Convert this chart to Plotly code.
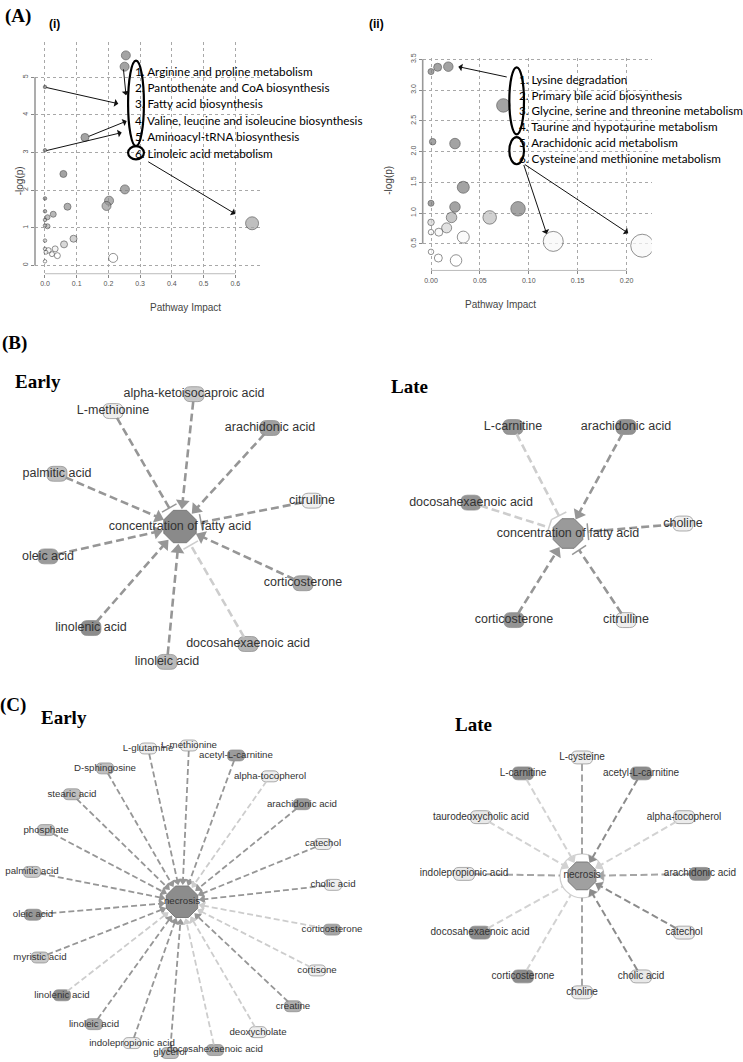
import math
import plotly.graph_objects as go

W, H = 743, 1062

# ---------------- Panel A(i) data ----------------
a1_impact = [0.255, 0.251, 0.000, 0.126, 0.000, 0.058, 0.252, 0.202, 0.194, 0.000, 0.071, 0.026, 0.000, 0.008,
             0.000, 0.008, 0.000, 0.653, 0.090, 0.060, 0.000, 0.000, 0.011, 0.032, 0.022, 0.003, 0.039, 0.215, 0.000]
a1_logp = [5.58, 5.28, 4.74, 3.40, 3.06, 2.43, 2.02, 1.72, 1.58, 1.78, 1.56, 1.36, 1.44, 1.28,
           1.21, 1.04, 1.06, 1.12, 0.71, 0.56, 0.66, 0.44, 0.40, 0.44, 0.30, 0.35, 0.26, 0.20, 0.11]
a1_bubble = [9, 9, 3.5, 8, 3.5, 7, 9, 9, 9, 3.5, 7, 6, 3.5, 5,
             3.5, 5, 3.5, 13, 7, 7, 3.5, 3.5, 5.5, 6, 5, 4, 6, 9, 3.5]
a1_shade = [125, 125, 110, 125, 118, 125, 132, 142, 150, 128, 142, 155, 150, 165,
            170, 180, 175, 165, 190, 200, 205, 225, 245, 240, 250, 250, 255, 255, 255]
a1_pathways = ["Arginine and proline metabolism", "Pantothenate and CoA biosynthesis",
               "Fatty acid biosynthesis", "Valine, leucine and isoleucine biosynthesis",
               "Aminoacyl-tRNA biosynthesis", "Linoleic acid metabolism"]
a1_xticks = [0.0, 0.1, 0.2, 0.3, 0.4, 0.5, 0.6]
a1_yticks = [0, 1, 2, 3, 4, 5]

# ---------------- Panel A(ii) data ----------------
a2_impact = [0.000, 0.0068, 0.0177, 0.074, 0.0017, 0.0245, 0.033, 0.000, 0.0245, 0.089, 0.021,
             0.060, 0.000, 0.016, 0.000, 0.008, 0.033, 0.125, 0.216, 0.000, 0.0075, 0.0256]
a2_logp = [3.30, 3.37, 3.38, 2.75, 2.16, 2.13, 1.42, 1.16, 1.10, 1.07, 0.93,
           0.93, 0.85, 0.76, 0.69, 0.69, 0.61, 0.54, 0.47, 0.37, 0.27, 0.23]
a2_bubble = [6, 8, 9.5, 13.5, 6.5, 10.5, 12, 6, 10.5, 14.5, 10.5,
             13.5, 6.5, 10, 5.5, 8, 12, 20, 23, 5.5, 8, 11.5]
a2_shade = [125, 125, 125, 125, 125, 125, 125, 125, 125, 125, 175,
            190, 215, 215, 250, 248, 250, 248, 248, 255, 255, 255]
a2_pathways = ["Lysine degradation", "Primary bile acid biosynthesis",
               "Glycine, serine and threonine metabolism", "Taurine and hypotaurine metabolism",
               "Arachidonic acid metabolism", "Cysteine and methionine metabolism"]
a2_xticks = [0.00, 0.05, 0.10, 0.15, 0.20]
a2_yticks = [0.5, 1.0, 1.5, 2.0, 2.5, 3.0, 3.5]

# ---------------- Panel B networks (offsets from the central node) ----------------
be_nodes = ["alpha-ketoisocaproic acid", "L-methionine", "arachidonic acid", "palmitic acid", "citrulline",
            "oleic acid", "corticosterone", "linolenic acid", "docosahexaenoic acid", "linoleic acid"]
be_dx = [14, -67, 90, -123, 132, -132, 123, -89, 68, -13]
be_dy = [-133, -116, -99, -53, -26, 30, 57, 102, 118, 136]
be_shade = [200, 238, 160, 190, 240, 155, 170, 140, 180, 185]
be_kind = ["arrow", "tbar", "arrow", "arrow", "tbar", "arrow", "arrow", "arrow", "tbar", "arrow"]
be_tone = [150, 150, 150, 150, 150, 150, 150, 150, 205, 150]

bl_nodes = ["L-carnitine", "arachidonic acid", "docosahexaenoic acid", "choline", "corticosterone", "citrulline"]
bl_dx = [-55, 58, -97, 115, -54, 58]
bl_dy = [-107, -107, -31, -10, 87, 87]
bl_shade = [150, 145, 148, 240, 148, 238]
bl_kind = ["tbar", "arrow", "tbar", "tbar", "arrow", "tbar"]
bl_tone = [205, 150, 205, 150, 150, 150]

# ---------------- Panel C networks ----------------
ce_nodes = ["L-glutamine", "L-methionine", "acetyl-L-carnitine", "D-sphingosine", "alpha-tocopherol",
            "stearic acid", "arachidonic acid", "phosphate", "catechol", "palmitic acid", "cholic acid",
            "oleic acid", "corticosterone", "myristic acid", "cortisone", "linolenic acid", "creatine",
            "linoleic acid", "deoxycholate", "indolepropionic acid", "glycerol", "docosahexaenoic acid"]
ce_dx = [-34, 7, 54, -77, 88, -110, 120, -136, 141, -150, 151, -149, 150, -142, 135, -120, 111, -88, 76, -50, -12, 33]
ce_dy = [-154, -157, -147, -134, -126, -108, -98, -72, -58, -30, -17, 13, 28, 56, 69, 94, 105, 123, 131, 142, 152, 149]
ce_shade = [238, 238, 155, 190, 238, 190, 155, 195, 238, 200, 238, 150, 165, 200, 238, 140, 175, 170, 238, 238, 190, 170]
ce_kind = ["arrow"] * 22
ce_tone = [150, 150, 150, 150, 205, 150, 150, 150, 150, 150, 150, 150, 205, 150, 205, 205, 150, 150, 205, 150, 150, 205]

cl_nodes = ["L-cysteine", "L-carnitine", "acetyl-L-carnitine", "taurodeoxycholic acid", "alpha-tocopherol",
            "indolepropionic acid", "arachidonic acid", "docosahexaenoic acid", "catechol", "corticosterone",
            "cholic acid", "choline"]
cl_dx = [0, -59, 59, -101, 102, -118, 118, -102, 102, -59, 59, 0]
cl_dy = [-119, -103, -103, -59, -59, -2, -2, 57, 57, 101, 101, 117]
cl_shade = [238, 140, 140, 232, 235, 232, 140, 140, 235, 140, 232, 235]
cl_kind = ["none", "arrow", "arrow", "arrow", "arrow", "none", "arrow", "none", "arrow", "none", "arrow", "none"]
cl_tone = [165, 210, 140, 210, 210, 165, 165, 210, 140, 210, 140, 165]

# =====================================================================
fig = go.Figure()
layout = {}
shapes = []
annotations = []


def gray(v):
    return f"rgb({v},{v},{v})"


def px_x(px):
    return px / W


def px_y(py):
    return 1 - py / H


# ---- Panel A scatter plots ----
def a_axes(i, box, xr, yr, xticks, yticks, xfmt, yfmt):
    x0, y0, x1, y1 = box
    sfx = "" if i == 1 else str(i)
    common = dict(showgrid=True, gridcolor="#a8a8a8", griddash="dot", gridwidth=1, zeroline=False,
                  showline=False, ticks="outside", ticklen=3, tickcolor="#888", tickwidth=1,
                  tickfont=dict(family="Liberation Sans", size=7, color="#555"), fixedrange=True)
    layout["xaxis" + sfx] = dict(domain=[px_x(x0), px_x(x1)], range=xr, anchor="y" + sfx,
                                 tickvals=xticks, ticktext=[xfmt.format(v) for v in xticks], **common)
    layout["yaxis" + sfx] = dict(domain=[px_y(y1), px_y(y0)], range=yr, anchor="x" + sfx,
                                 tickvals=yticks, ticktext=[yfmt.format(v) for v in yticks],
                                 tickangle=-90, **common)
    xa, ya = "x" + sfx, "y" + sfx
    shapes.append(dict(type="line", xref=xa + " domain", yref=ya, x0=0, x1=0, y0=yticks[0], y1=yticks[-1],
                       line=dict(color="#999", width=1.6)))
    shapes.append(dict(type="line", xref=xa, yref=ya + " domain", x0=xticks[0], x1=xticks[-1], y0=0, y1=0,
                       line=dict(color="#bbb", width=1)))
    return xa, ya


xa1, ya1 = a_axes(1, (35, 37, 260, 270), [-0.0315, 0.678], [-0.22, 5.94], a1_xticks, a1_yticks, "{:.1f}", "{:d}")
xa2, ya2 = a_axes(2, (422.7, 53.3, 651.7, 266.7), [-0.0085, 0.2257], [0.068, 3.52], a2_xticks, a2_yticks,
                  "{:.2f}", "{:.1f}")

fig.add_trace(go.Scatter(x=a1_impact, y=a1_logp, mode="markers", xaxis=xa1, yaxis=ya1,
                         marker=dict(size=a1_bubble, color=[gray(v) for v in a1_shade],
                                     line=dict(color="#222", width=0.7)), showlegend=False, hoverinfo="skip"))
fig.add_trace(go.Scatter(x=a2_impact, y=a2_logp, mode="markers", xaxis=xa2, yaxis=ya2,
                         marker=dict(size=a2_bubble, color=[gray(v) for v in a2_shade],
                                     line=dict(color="#222", width=0.7)), showlegend=False, hoverinfo="skip"))

afont = dict(family="Lato", size=11.7, color="black")
for i, name in enumerate(a1_pathways):
    annotations.append(dict(x=0.2776, y=5.177 - i * 0.4376, xref=xa1, yref=ya1, text=f"{i + 1}. {name}",
                            showarrow=False, xanchor="left", yanchor="middle", font=afont))
for i, name in enumerate(a2_pathways):
    annotations.append(dict(x=0.0876, y=3.186 - i * 0.259, xref=xa2, yref=ya2, text=f"{i + 1}. {name}",
                            showarrow=False, xanchor="left", yanchor="middle", font=afont))

# ellipses
shapes += [
    dict(type="circle", xref=xa1, yref=ya1, x0=0.262, x1=0.312, y0=3.17, y1=5.44, line=dict(color="black", width=2.2)),
    dict(type="circle", xref=xa1, yref=ya1, x0=0.262, x1=0.312, y0=2.82, y1=3.17, line=dict(color="black", width=2.2)),
    dict(type="circle", xref=xa2, yref=ya2, x0=0.0801, x1=0.0951, y0=2.28, y1=3.37, line=dict(color="black", width=2.2)),
    dict(type="circle", xref=xa2, yref=ya2, x0=0.0801, x1=0.0951, y0=1.794, y1=2.236, line=dict(color="black", width=2.2)),
]

# callout arrows (tail -> head)
for (xref, yref, tx, ty, hx, hy) in [
    (xa1, ya1, 0.247, 5.249, 0.2555, 4.524),
    (xa1, ya1, 0.0, 4.735, 0.2312, 4.296),
    (xa1, ya1, 0.1334, 3.413, 0.2577, 3.836),
    (xa1, ya1, 0.0, 3.042, 0.242, 3.529),
    (xa1, ya1, 0.3208, 2.778, 0.6003, 1.368),
    (xa2, ya2, 0.079, 3.207, 0.0279, 3.38),
    (xa2, ya2, 0.0944, 1.806, 0.1183, 0.662),
    (xa2, ya2, 0.0944, 1.806, 0.2017, 0.673),
]:
    annotations.append(dict(x=hx, y=hy, ax=tx, ay=ty, xref=xref, yref=yref, axref=xref, ayref=yref,
                            showarrow=True, arrowhead=1, arrowsize=1.3, arrowwidth=1, arrowcolor="#111", text=""))

# axis titles for A
lab = dict(family="Liberation Sans", size=10, color="#444")
annotations += [
    dict(x=px_x(12), y=px_y(160), xref="paper", yref="paper", text="-log(p)", textangle=-90, showarrow=False, font=lab),
    dict(x=px_x(148), y=px_y(296), xref="paper", yref="paper", text="Pathway Impact", showarrow=False, font=lab),
    dict(x=px_x(389), y=px_y(160), xref="paper", yref="paper", text="-log(p)", textangle=-90, showarrow=False, font=lab),
    dict(x=px_x(538), y=px_y(293), xref="paper", yref="paper", text="Pathway Impact", showarrow=False, font=lab),
]


# ---- Networks ----
def rounded(cx, cy, w, h, r):
    x0, x1, y0, y1 = cx - w / 2, cx + w / 2, cy - h / 2, cy + h / 2
    return (f"M{x0 + r},{y0} L{x1 - r},{y0} Q{x1},{y0} {x1},{y0 + r} L{x1},{y1 - r} Q{x1},{y1} {x1 - r},{y1} "
            f"L{x0 + r},{y1} Q{x0},{y1} {x0},{y1 - r} L{x0},{y0 + r} Q{x0},{y0} {x0 + r},{y0} Z")


def add_network(idx, box, center, nodes, dx, dy, shade, kind, tone, center_label, oct_size, oct_color,
                ow, oh, fsize, ew, dash, head, ring=None):
    xa, ya = f"x{idx}", f"y{idx}"
    x0, y0, x1, y1 = box
    cx, cy = center
    layout[f"xaxis{idx}"] = dict(domain=[px_x(x0), px_x(x1)], range=[x0 - cx, x1 - cx], visible=False,
                                 fixedrange=True, anchor=ya)
    layout[f"yaxis{idx}"] = dict(domain=[px_y(y1), px_y(y0)], range=[y1 - cy, y0 - cy], visible=False,
                                 fixedrange=True, anchor=xa)
    R = oct_size / 2
    if ring:
        fig.add_trace(go.Scatter(x=[0], y=[0], xaxis=xa, yaxis=ya, mode="markers", showlegend=False,
                                 hoverinfo="skip",
                                 marker=dict(symbol="circle", size=2 * ring, color="white",
                                             line=dict(color="#cfcfcf", width=1.2))))
    for n, ddx, ddy, k, t in zip(nodes, dx, dy, kind, tone):
        d = math.hypot(ddx, ddy)
        ux, uy = ddx / d, ddy / d
        tt = 1 / math.sqrt((ux / (ow / 2)) ** 2 + (uy / (oh / 2)) ** 2)
        sx, sy = ddx - ux * tt, ddy - uy * tt
        col = gray(t)
        if k == "arrow":
            e = R + head / 2
            sym = "triangle-up"
            mline = dict(width=0)
        elif k == "tbar":
            e = R + 4
            sym = "line-ew"
            mline = dict(width=1.5, color=col)
        else:
            e = ring if ring else R + 2
            sym = "circle"
            mline = dict(width=0)
        fig.add_trace(go.Scatter(x=[sx, ux * e], y=[sy, uy * e], xaxis=xa, yaxis=ya, mode="lines+markers",
                                 showlegend=False, hoverinfo="skip",
                                 line=dict(color=col, width=ew, dash=dash),
                                 marker=dict(symbol=["circle", sym], size=[1, head], color=col,
                                             opacity=[0, 1 if k != "none" else 0], angleref="previous",
                                             line=mline)))
    fig.add_trace(go.Scatter(x=[0], y=[0], xaxis=xa, yaxis=ya, mode="markers", showlegend=False, hoverinfo="skip",
                             marker=dict(symbol="octagon", size=oct_size, color=oct_color,
                                         line=dict(color="#7a7a7a", width=1))))
    for n, ddx, ddy, s in zip(nodes, dx, dy, shade):
        shapes.append(dict(type="path", xref=xa, yref=ya, path=rounded(ddx, ddy, ow, oh, oh * 0.42),
                           fillcolor=gray(s), line=dict(color="#8a8a8a", width=0.7), layer="below"))
    fig.add_trace(go.Scatter(x=list(dx) + [0], y=list(dy) + [0], xaxis=xa, yaxis=ya, mode="text",
                             text=list(nodes) + [center_label], textposition="middle center",
                             textfont=dict(family="Liberation Sans", size=fsize, color="#333"),
                             showlegend=False, hoverinfo="skip"))


add_network(3, (0, 355, 370, 700), (180, 524), be_nodes, be_dx, be_dy, be_shade, be_kind, be_tone,
            "concentration of fatty acid", 35, "#8a8a8a", 20, 15, 12.5, 2.6, "8px,4px", 12)
add_network(4, (370, 355, 743, 700), (568, 531), bl_nodes, bl_dx, bl_dy, bl_shade, bl_kind, bl_tone,
            "concentration of fatty acid", 32, "#9a9a9a", 20, 15, 12.5, 2.6, "8px,4px", 12)
add_network(5, (0, 728, 370, 1062), (182, 901), ce_nodes, ce_dx, ce_dy, ce_shade, ce_kind, ce_tone,
            "necrosis", 34, "#8c8c8c", 17, 11, 9.7, 1.8, "6px,3px", 8, ring=22)
add_network(6, (370, 728, 743, 1062), (582, 875), cl_nodes, cl_dx, cl_dy, cl_shade, cl_kind, cl_tone,
            "necrosis", 30, "#a0a0a0", 21, 13, 10, 2.0, "7px,3.5px", 9, ring=22)

# ---- Panel titles ----
serif = dict(family="Liberation Serif", size=19, color="black")
for txt, x, y, f in [
    ("<b>(A)</b>", 18, 11, serif), ("<b>(B)</b>", 15, 340, serif), ("<b>(C)</b>", 13, 703, serif),
    ("<b>Early</b>", 37.5, 378, serif), ("<b>Late</b>", 409.5, 383, serif),
    ("<b>Early</b>", 63.7, 716, serif), ("<b>Late</b>", 473, 722.5, serif),
    ("<b>(i)</b>", 54.5, 19, dict(family="Liberation Sans", size=12, color="black")),
    ("<b>(ii)</b>", 377, 19, dict(family="Liberation Sans", size=12, color="black")),
]:
    annotations.append(dict(x=px_x(x), y=px_y(y), xref="paper", yref="paper", text=txt, showarrow=False,
                            xanchor="center", yanchor="middle", font=f))

fig.update_layout(width=W, height=H, margin=dict(l=0, r=0, t=0, b=0), paper_bgcolor="white",
                  plot_bgcolor="white", showlegend=False, shapes=shapes, annotations=annotations, **layout)
fig.write_html("out.html", config={"displayModeBar": False},
               post_script="document.body.style.margin='0';document.body.style.padding='0';"
                           "document.documentElement.style.overflow='hidden';")
